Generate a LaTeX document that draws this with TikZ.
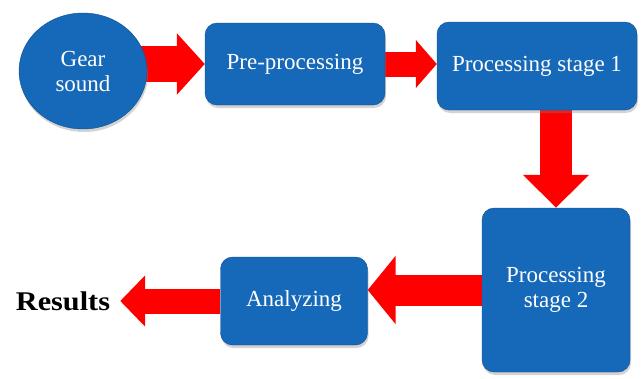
\documentclass[tikz,border=0pt]{standalone}
\usepackage{fontspec}
\setmainfont{Liberation Serif}
\newfontfamily\resfont{Liberation Serif}[FakeStretch=1.12]
\usepackage{tikz}
\usetikzlibrary{positioning,shapes.geometric,shadows,arrows.meta,backgrounds}
\definecolor{boxblue}{RGB}{22,104,184}
\definecolor{boxline}{RGB}{16,78,145}
\definecolor{arrowred}{RGB}{255,0,0}

\begin{document}
\begin{tikzpicture}[x=1pt,y=-1pt]
\tikzstyle{every node}+=[font=\fontsize{23}{25}\selectfont]
\tikzstyle{block}=[draw=boxline, fill=boxblue, text=white, align=center, inner sep=0pt,
  drop shadow={shadow xshift=1pt,shadow yshift=-3pt,opacity=0.35}]
\tikzstyle{stagebox}=[block, rounded corners=12pt]
\tikzstyle{bigarrow}=[draw=arrowred, line cap=butt]
\useasboundingbox (0,0) rectangle (643,378);
% nodes
\node [block, ellipse, minimum width=128pt, minimum height=116pt] (gear) at (83,71) {Gear\\sound};
\node [stagebox, minimum width=180pt, minimum height=82pt] (pre) at (295,64) {Pre-processing};
\node [stagebox, minimum width=200pt, minimum height=88pt] (ps1) at (537,66) {Processing stage 1};
\node [stagebox, minimum width=148pt, minimum height=164pt] (ps2) at (556,290) {Processing\\stage 2};
\node [stagebox, minimum width=147pt, minimum height=88pt] (ana) at (294,301) {Analyzing};
\node [inner sep=0pt, font=\resfont\bfseries\fontsize{27}{29}\selectfont] (res) at (63,301) {Results};
% arrows
\begin{scope}[on background layer]
\draw [bigarrow, line width=36pt, -{Triangle[length=28pt,width=60pt]}] ([xshift=-12pt]gear.east |- pre.west) -- (pre.west);
\draw [bigarrow, line width=25pt, -{Triangle[length=21pt,width=47pt]}] (pre.east) -- (pre.east -| ps1.west);
\draw [bigarrow, line width=32pt, -{Triangle[length=33pt,width=64pt]}] (ps2.north |- ps1.south) -- (ps2.north);
\draw [bigarrow, line width=31pt, -{Triangle[length=28pt,width=67pt]}] (ps2.west) -- (ps2.west -| ana.east);
\draw [bigarrow, line width=25pt, -{Triangle[length=25pt,width=50pt]}] (ana.west) -- ([xshift=10pt]res.east);
\end{scope}
\end{tikzpicture}
\end{document}
